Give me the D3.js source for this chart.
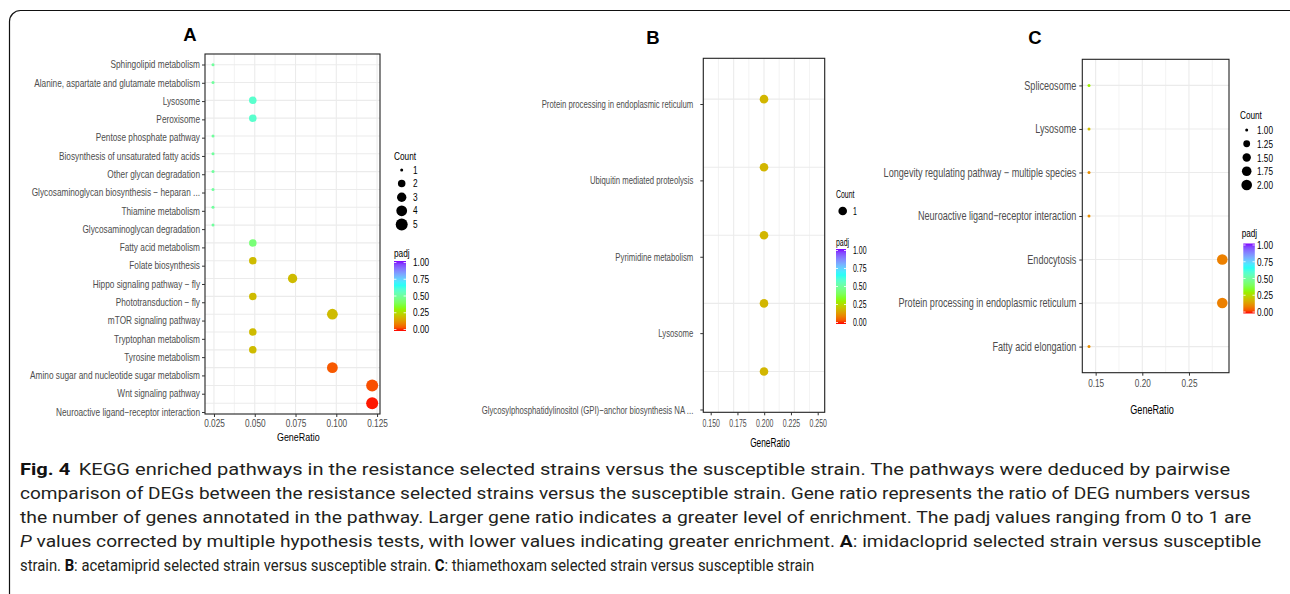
<!DOCTYPE html>
<html><head><meta charset="utf-8">
<script src="https://cdn.jsdelivr.net/npm/d3@7"></script>
<style>
body{margin:0;background:#fff}
svg{display:block}
.pt text{font-family:"Liberation Sans",Arial,Helvetica,sans-serif}
.cap{font-family:"Liberation Sans Narrow",Roboto,"Liberation Sans",sans-serif}
</style>
</head><body>
<svg id="c" width="1290" height="594"></svg>
<script>
// ---------------- DATA ----------------
// Panel A
const aPathways = ["Sphingolipid metabolism","Alanine, aspartate and glutamate metabolism","Lysosome","Peroxisome",
  "Pentose phosphate pathway","Biosynthesis of unsaturated fatty acids","Other glycan degradation",
  "Glycosaminoglycan biosynthesis − heparan ...","Thiamine metabolism","Glycosaminoglycan degradation",
  "Fatty acid metabolism","Folate biosynthesis","Hippo signaling pathway − fly","Phototransduction − fly",
  "mTOR signaling pathway","Tryptophan metabolism","Tyrosine metabolism","Amino sugar and nucleotide sugar metabolism",
  "Wnt signaling pathway","Neuroactive ligand−receptor interaction"];
const aGeneRatio = [0.0244,0.0244,0.0488,0.0488,0.0244,0.0244,0.0244,0.0244,0.0244,0.0244,
  0.0488,0.0488,0.0732,0.0488,0.0976,0.0488,0.0488,0.0976,0.1220,0.1220];
const aCount = [1,1,2,2,1,1,1,1,1,1,2,2,3,2,4,2,2,4,5,5];
const aPadj = [0.50,0.50,0.58,0.58,0.50,0.50,0.50,0.50,0.50,0.50,0.44,0.20,0.20,0.20,0.20,0.20,0.20,0.05,0.04,0.005];
const aTicks = [0.025,0.050,0.075,0.100,0.125];
const aCountLegend = [1,2,3,4,5];

// Panel B
const bPathways = ["Protein processing in endoplasmic reticulum","Ubiquitin mediated proteolysis","Pyrimidine metabolism",
  "Lysosome","Glycosylphosphatidylinositol (GPI)−anchor biosynthesis NA ..."];
const bGeneRatio = [0.200,0.200,0.200,0.200,0.200];
const bCount = [1,1,1,1,1];
const bPadj = [0.19,0.19,0.19,0.19,0.19];
const bTicks = [0.150,0.175,0.200,0.225,0.250];
const bCountLegend = [1];

// Panel C
const cPathways = ["Spliceosome","Lysosome","Longevity regulating pathway − multiple species",
  "Neuroactive ligand−receptor interaction","Endocytosis","Protein processing in endoplasmic reticulum","Fatty acid elongation"];
const cGeneRatio = [0.1429,0.1429,0.1429,0.1429,0.2857,0.2857,0.1429];
const cCount = [1,1,1,1,2,2,1];
const cPadj = [0.30,0.20,0.12,0.12,0.10,0.10,0.12];
const cTicks = [0.15,0.20,0.25];
const cCountLegend = [1.00,1.25,1.50,1.75,2.00];

const padjBreaks = [0,0.25,0.5,0.75,1];
const padjColors = ["#FF0000","#80FF00","#00FFFF","#8000FF"];

const captionLines = [
  [{t:"Fig. 4",b:1},{t:"KEGG enriched pathways in the resistance selected strains versus the susceptible strain. The pathways were deduced by pairwise",dx:7}],
  [{t:"comparison of DEGs between the resistance selected strains versus the susceptible strain. Gene ratio represents the ratio of DEG numbers versus"}],
  [{t:"the number of genes annotated in the pathway. Larger gene ratio indicates a greater level of enrichment. The padj values ranging from 0 to 1 are"}],
  [{t:"P",i:1},{t:" values corrected by multiple hypothesis tests, with lower values indicating greater enrichment. "},{t:"A",b:1},{t:": imidacloprid selected strain versus susceptible"}],
  [{t:"strain. "},{t:"B",b:1},{t:": acetamiprid selected strain versus susceptible strain. "},{t:"C",b:1},{t:": thiamethoxam selected strain versus susceptible strain"}]
];
const captionEnds = [1231,1251,1252,1263,815];

// ---------------- DRAW ----------------
const svg = d3.select("#c");
const color = d3.scaleLinear().domain([0,1/3,2/3,1]).range(padjColors).interpolate(d3.interpolateLab);

function squeeze(sel, sx){
  sel.each(function(){
    const w = this.getComputedTextLength();
    if (w > 0) d3.select(this).attr("textLength", w*sx).attr("lengthAdjust","spacingAndGlyphs");
  });
}

function drawPanel(p){
  const g = svg.append("g").attr("class","pt");
  const x = d3.scaleLinear().domain(p.xDomain).range([p.l,p.r]);
  const y = d3.scalePoint().domain(p.names).range([p.t,p.b]).padding(0.6);
  const xAx = p.xAxisRange ? d3.scaleLinear().domain(p.xAxisDomain).range(p.xAxisRange) : x;
  const yAx = p.yAxisRange ? d3.scalePoint().domain(p.names).range(p.yAxisRange) : y;
  const r = c => d3.scaleLinear().domain([0,1]).range(p.rRange)(p.cMax>p.cMin ? Math.sqrt((c-p.cMin)/(p.cMax-p.cMin)) : 0.5);

  g.append("rect").attr("x",p.l).attr("y",p.t).attr("width",p.r-p.l).attr("height",p.b-p.t).attr("fill","#fff");
  const step = p.ticks[1]-p.ticks[0];
  const minors = [p.ticks[0]-step/2].concat(p.ticks.map(t=>t+step/2)).filter(v=>v>p.xDomain[0]&&v<p.xDomain[1]);
  g.append("g").selectAll("line").data(minors).join("line")
    .attr("x1",d=>x(d)).attr("x2",d=>x(d)).attr("y1",p.t).attr("y2",p.b)
    .attr("stroke","#f0f0f0").attr("stroke-width",0.8);
  g.append("g").selectAll("line").data(p.ticks.filter(v=>v>=p.xDomain[0]&&v<=p.xDomain[1])).join("line")
    .attr("x1",d=>x(d)).attr("x2",d=>x(d)).attr("y1",p.t).attr("y2",p.b)
    .attr("stroke","#ebebeb").attr("stroke-width",1.1);
  g.append("g").selectAll("line").data(p.names).join("line")
    .attr("x1",p.l).attr("x2",p.r).attr("y1",d=>y(d)).attr("y2",d=>y(d))
    .attr("stroke","#ebebeb").attr("stroke-width",1.1);

  const rows = p.names.map((n,i)=>({n, gr:p.ratio[i], c:p.count[i], pa:p.padj[i]}));
  g.append("g").selectAll("circle").data(rows).join("circle")
    .attr("cx",d=>x(d.gr)).attr("cy",d=>y(d.n)).attr("r",d=>r(d.c)).attr("fill",d=>color(d.pa));

  g.append("rect").attr("x",p.l).attr("y",p.t).attr("width",p.r-p.l).attr("height",p.b-p.t)
    .attr("fill","none").attr("stroke","#222").attr("stroke-width",1.1);

  // axes
  const ya = g.append("g").attr("transform",`translate(${p.l},0)`)
    .call(d3.axisLeft(yAx).tickSize(3).tickPadding(p.yPad));
  ya.select(".domain").remove();
  ya.selectAll("line").attr("stroke","#333");
  ya.selectAll("text").attr("fill","#4d4d4d").attr("font-size",p.yFont).attr("font-family",null);

  const xa = g.append("g").attr("transform",`translate(0,${p.b})`)
    .call(d3.axisBottom(xAx).tickValues(p.ticks).tickFormat(d3.format(p.fmt)).tickSize(3).tickPadding(p.xPad));
  xa.select(".domain").remove();
  xa.selectAll("line").attr("stroke","#333");
  xa.selectAll("text").attr("fill","#4d4d4d").attr("font-size",p.xFont).attr("font-family",null);

  g.append("text").attr("x",p.xTitle[0]).attr("y",p.xTitle[1]).attr("text-anchor","middle")
    .attr("dominant-baseline","central").attr("font-size",p.titleFont).attr("fill","#000").text("GeneRatio");

  // legends
  const L = p.leg;
  g.append("text").attr("x",L.countTitle[0]).attr("y",L.countTitle[1]).attr("dominant-baseline","central")
    .attr("font-size",L.font).text("Count");
  const ce = g.append("g").selectAll("g").data(p.countLegend).join("g")
    .attr("transform",(d,i)=>`translate(0,${L.countY0+i*L.countStep})`);
  ce.append("circle").attr("cx",L.countX).attr("cy",0).attr("r",d=>r(d)).attr("fill","#000");
  ce.append("text").attr("x",L.labX).attr("y",0).attr("dominant-baseline","central").attr("font-size",L.font)
    .text(d=>d3.format(p.countFmt)(d));

  g.append("text").attr("x",L.padjTitle[0]).attr("y",L.padjTitle[1]).attr("dominant-baseline","central")
    .attr("font-size",L.font).text("padj");
  const gid = "grad"+p.id;
  const grad = svg.append("defs").append("linearGradient").attr("id",gid)
    .attr("x1",0).attr("y1",1).attr("x2",0).attr("y2",0);
  grad.selectAll("stop").data(d3.range(0,1.0001,0.05)).join("stop")
    .attr("offset",d=>d).attr("stop-color",d=>color(d));
  const B = L.bar;
  g.append("rect").attr("x",B.x).attr("y",B.y).attr("width",B.w).attr("height",B.h).attr("fill",`url(#${gid})`);
  const ly = d3.scaleLinear().domain([0,1]).range([B.y+B.h-1.5,B.y+1.5]);
  const bt = g.append("g").selectAll("g").data(padjBreaks).join("g");
  bt.append("line").attr("x1",B.x).attr("x2",B.x+B.w*0.2).attr("y1",d=>ly(d)).attr("y2",d=>ly(d)).attr("stroke","#fff").attr("stroke-width",0.8);
  bt.append("line").attr("x1",B.x+B.w*0.8).attr("x2",B.x+B.w).attr("y1",d=>ly(d)).attr("y2",d=>ly(d)).attr("stroke","#fff").attr("stroke-width",0.8);
  bt.append("text").attr("x",L.labX).attr("y",d=>ly(d)).attr("dominant-baseline","central").attr("font-size",L.font)
    .text(d=>d3.format(".2f")(d));

  // horizontal squeeze of all panel text (reference label width)
  const ref = ya.selectAll("text").filter(d=>d===p.refLabel).node();
  const sx = p.refWidth / ref.getComputedTextLength();
  squeeze(g.selectAll("text"), sx);

  // panel letter
  svg.append("text").attr("x",p.letter[0]).attr("y",p.letter[1]).attr("text-anchor","middle")
    .attr("font-family","Liberation Sans, Arial, sans-serif").attr("font-weight","bold").attr("font-size",18.5)
    .text(p.id);
}

function draw(){
  svg.append("rect").attr("x",9.5).attr("y",10.5).attr("width",1300).attr("height",640).attr("rx",11)
    .attr("fill","none").attr("stroke","#111").attr("stroke-width",1.2);

  drawPanel({id:"A", names:aPathways, ratio:aGeneRatio, count:aCount, padj:aPadj, ticks:aTicks, fmt:".3f",
    countLegend:aCountLegend, countFmt:"d", cMin:1, cMax:5, rRange:[1.5,6.0],
    l:205, t:54, r:380, b:414, xDomain:[0.0195,0.1268], yAxisRange:[64.5,412],
    yPad:2, xPad:2.5, yFont:10.2, xFont:10.2, titleFont:11, xTitle:[298.3,436.7],
    refLabel:"Neuroactive ligand−receptor interaction", refWidth:144, letter:[190,40.7],
    leg:{font:10.2, countTitle:[394,156], countX:401.7, countY0:170, countStep:13.6, labX:413,
      padjTitle:[394,253], bar:{x:394,y:261,w:12,h:70}}});

  drawPanel({id:"B", names:bPathways, ratio:bGeneRatio, count:bCount, padj:bPadj, ticks:bTicks, fmt:".3f",
    countLegend:bCountLegend, countFmt:"d", cMin:1, cMax:1, rRange:[1.5,7.1],
    l:703.3, t:58.3, r:824.7, b:412.3, xDomain:[0.15,0.25],
    xAxisDomain:[0.15,0.25], xAxisRange:[710.7,817.7], yAxisRange:[104,409.5],
    yPad:7, xPad:5, yFont:11.2, xFont:10, titleFont:12, xTitle:[770,443.3],
    refLabel:"Protein processing in endoplasmic reticulum", refWidth:151.6, letter:[653,43.5],
    leg:{font:10, countTitle:[836,194.3], countX:842.7, countY0:211, countStep:13.6, labX:853,
      padjTitle:[836,242.3], bar:{x:836,y:249,w:10,h:75}}});

  drawPanel({id:"C", names:cPathways, ratio:cGeneRatio, count:cCount, padj:cPadj, ticks:cTicks, fmt:".2f",
    countLegend:cCountLegend, countFmt:".2f", cMin:1, cMax:2, rRange:[1.5,5.3],
    l:1082.3, t:59.3, r:1229, b:372.7, xDomain:[0.1357,0.2929],
    yPad:3, xPad:4, yFont:12.2, xFont:11, titleFont:12.2, xTitle:[1152,410],
    refLabel:"Longevity regulating pathway − multiple species", refWidth:192.7, letter:[1035,44],
    leg:{font:11, countTitle:[1240,114.7], countX:1246.7, countY0:130, countStep:13.75, labX:1257,
      padjTitle:[1241.7,233.3], bar:{x:1243.3,y:243.5,w:11.5,h:70}}});

  // caption
  const cg = svg.append("g").attr("class","cap");
  captionLines.forEach((segs,i)=>{
    const base = 474.5 + i*24;
    const t = cg.append("text").attr("x",0).attr("y",0).attr("font-size",16.5).attr("fill","#231f20");
    segs.forEach(s=>{
      const ts = t.append("tspan").text(s.t);
      if (s.b) ts.attr("font-weight","bold").attr("fill","#111");
      if (s.i) ts.attr("font-style","italic");
      if (s.dx) ts.attr("dx",s.dx);
    });
    const w = t.node().getBBox().width;
    const sx = (captionEnds[i]-20)/w;
    t.attr("transform",`translate(20,${base}) scale(${sx},1)`);
  });
}
(document.fonts && document.fonts.ready ? document.fonts.ready : Promise.resolve()).then(draw);
</script>
</body></html>
